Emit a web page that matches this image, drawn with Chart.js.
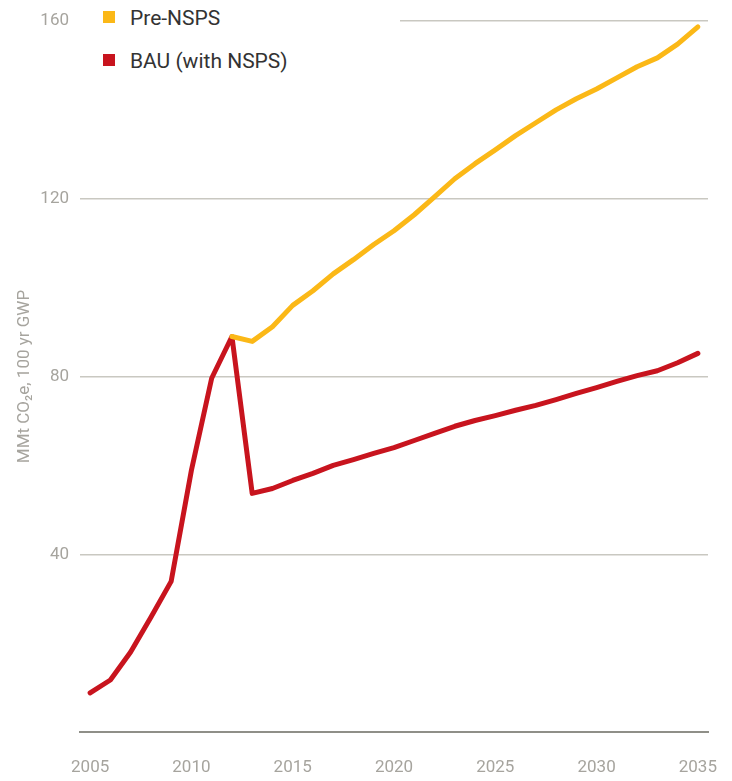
<!DOCTYPE html>
<html>
<head>
<meta charset="utf-8">
<script src="https://cdn.jsdelivr.net/npm/chart.js@4"></script>
<style>
    body { margin: 0; background: #fff; }
    .wrap { position: relative; width: 732px; height: 781px; }
    .legend {
        position: absolute; left: 80px; top: 0; width: 320px; height: 82px;
        background: #fff; font-family: "Roboto", sans-serif;
        font-size: 21px; color: #333;
    }
    .legend div { position: absolute; left: 23px; white-space: nowrap; }
    .legend span { display: inline-block; width: 12px; height: 12px; margin-right: 15px; vertical-align: 2px; }
</style>
</head>
<body>
<div class="wrap">
    <canvas class="emissions---chart" width="732" height="781"></canvas>
    <div class="legend">
        <div style="top:6px"><span style="background:#fbb817"></span>Pre-NSPS</div>
        <div style="top:49px"><span style="background:#c8141e"></span>BAU (with NSPS)</div>
    </div>
</div>
<script>
"use strict";

const years = [];
for (let x = 2005; x <= 2035; x++) {
    years.push(x);
}

const bau = [8.8, 11.7, 18, 25.8, 33.9, 58.9, 79.6, 89, 53.7, 54.8,
    56.6, 58.2, 60, 61.3, 62.7, 64, 65.6, 67.2, 68.8, 70.1,
    71.2, 72.4, 73.5, 74.8, 76.2, 77.5, 78.9, 80.2, 81.3, 83.1, 85.2];

const preNsps = [null, null, null, null, null, null, null, 89, 87.9, 91.2,
    96, 99.3, 103.1, 106.3, 109.7, 112.8, 116.4, 120.4, 124.5, 127.9,
    131, 134.2, 137.1, 140, 142.5, 144.7, 147.2, 149.7, 151.7, 154.8, 158.7];

const xTicks = [2005, 2010, 2015, 2020, 2025, 2030, 2035];
const yTicks = [0, 40, 80, 120, 160];

const fontName = '"Roboto", sans-serif';
const tickGray = "#a6a49e";

function toPoints(vals) {
    return years.map((yr, i) => ({ x: yr, y: vals[i] }));
}

new Chart(document.querySelector(".emissions---chart"), {
    type: "line",
    data: {
        datasets: [{
            label: "Pre-NSPS",
            data: toPoints(preNsps),
            borderColor: "#fbb817",
            borderWidth: 5,
            pointRadius: 0,
            spanGaps: false,
            borderCapStyle: "round",
            borderJoinStyle: "round",
            tension: 0
        }, {
            label: "BAU (with NSPS)",
            data: toPoints(bau),
            borderColor: "#c8141e",
            borderWidth: 5,
            pointRadius: 0,
            borderCapStyle: "round",
            borderJoinStyle: "round",
            tension: 0
        }]
    },
    options: {
        responsive: false,
        animation: false,
        layout: { padding: { top: 21, right: 24, left: 0, bottom: 0 } },
        plugins: {
            legend: { display: false },
            tooltip: { enabled: false }
        },
        scales: {
            x: {
                type: "linear",
                min: 2004.5,
                max: 2035.5,
                afterBuildTicks: (axis) => { axis.ticks = xTicks.map(v => ({ value: v })); },
                afterFit: (axis) => {
                    axis.height = 49;
                    axis.paddingLeft = 0;
                    axis.paddingRight = 0;
                },
                grid: { display: false, drawTicks: false },
                border: { display: true, color: "#8f8f88", width: 2 },
                ticks: {
                    padding: 26,
                    color: tickGray,
                    font: { family: fontName, size: 17 },
                    callback: (v) => String(v),
                    maxRotation: 0
                }
            },
            y: {
                min: 0,
                max: 160,
                afterBuildTicks: (axis) => { axis.ticks = yTicks.map(v => ({ value: v })); },
                afterFit: (axis) => {
                    axis.width = 80;
                    axis.paddingTop = 0;
                    axis.paddingBottom = 0;
                },
                grid: {
                    drawTicks: false,
                    lineWidth: 1.5,
                    color: (ctx) => ctx.tick && ctx.tick.value === 0 ? "rgba(0,0,0,0)" : "#c9c8c1"
                },
                border: { display: false },
                ticks: {
                    padding: 11,
                    color: tickGray,
                    font: { family: fontName, size: 17 },
                    callback: (v) => v === 0 ? "" : String(v)
                },
                title: {
                    display: true,
                    text: "MMt CO\u2082e, 100 yr GWP",
                    color: tickGray,
                    font: { family: fontName, size: 17 },
                    padding: { top: 15, bottom: 0 }
                }
            }
        }
    }
});
</script>
</body>
</html>
